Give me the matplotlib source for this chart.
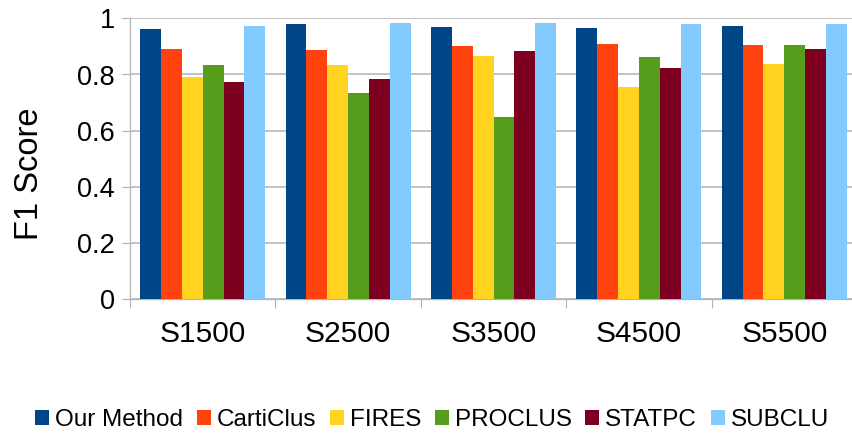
import matplotlib
matplotlib.use("Agg")
import matplotlib.pyplot as plt
from matplotlib.patches import Patch
import numpy as np

plt.rcParams['font.family'] = ['Liberation Sans', 'DejaVu Sans']

categories = ["S1500", "S2500", "S3500", "S4500", "S5500"]
series_names = ["Our Method", "CartiClus", "FIRES", "PROCLUS", "STATPC", "SUBCLU"]
our_method = [0.962, 0.980, 0.969, 0.965, 0.973]
carticlus = [0.891, 0.887, 0.901, 0.909, 0.905]
fires = [0.791, 0.833, 0.866, 0.755, 0.837]
proclus = [0.833, 0.734, 0.649, 0.862, 0.905]
statpc = [0.773, 0.784, 0.884, 0.823, 0.891]
subclu = [0.973, 0.983, 0.983, 0.980, 0.980]
y_ticks = [0, 0.2, 0.4, 0.6, 0.8, 1]
y_tick_labels = ["0", "0.2", "0.4", "0.6", "0.8", "1"]

series = [our_method, carticlus, fires, proclus, statpc, subclu]
colors = ["#004586", "#ff420e", "#ffd320", "#579d1c", "#7e0021", "#83caff"]

W, H = 852, 436
fig = plt.figure(figsize=(W / 100, H / 100), dpi=100)
ax = fig.add_axes([130 / W, 1 - 299.3 / H, 727 / W, 281 / H])

x = np.arange(len(categories))
bw = 0.86 / 6
for i, (vals, c) in enumerate(zip(series, colors)):
    ax.bar(x - 0.43 + bw * (i + 0.5), vals, width=bw, color=c, linewidth=0, zorder=3)

grid_c = "#b3b3b3"
ax.set_xlim(-0.5, len(categories) - 0.5)
ax.set_ylim(0, 1)
ax.set_yticks(y_ticks)
ax.set_yticklabels(y_tick_labels, fontsize=19.5)
ax.yaxis.grid(True, color=grid_c, linewidth=1.1, zorder=0)
ax.set_axisbelow(True)
ax.tick_params(axis='y', length=6, width=0.8, color=grid_c, pad=5)

ax.set_xticks(x)
ax.set_xticklabels(categories, fontsize=21.5)
ax.set_xticks(np.arange(-0.5, len(categories) + 0.5, 1), minor=True)
ax.tick_params(axis='x', which='major', length=0, pad=15)
ax.tick_params(axis='x', which='minor', length=6.5, width=0.8, color=grid_c)

for s in ['top', 'right']:
    ax.spines[s].set_visible(False)
for s in ['left', 'bottom']:
    ax.spines[s].set_color(grid_c)
    ax.spines[s].set_linewidth(0.9)

fig.text(30 / W, 1 - 174 / H, "F1 Score", rotation=90, fontsize=23.5,
         ha='center', va='center')

handles = [Patch(facecolor=c, edgecolor='none') for c in colors]
fig.legend(handles, series_names, loc='center', bbox_to_anchor=(432 / W, 1 - 420 / H),
           ncol=6, frameon=False, fontsize=17.5, handlelength=0.58, handleheight=0.58,
           handletextpad=0.25, columnspacing=0.55, borderpad=0, borderaxespad=0)

fig.savefig("out.png", dpi=100)
